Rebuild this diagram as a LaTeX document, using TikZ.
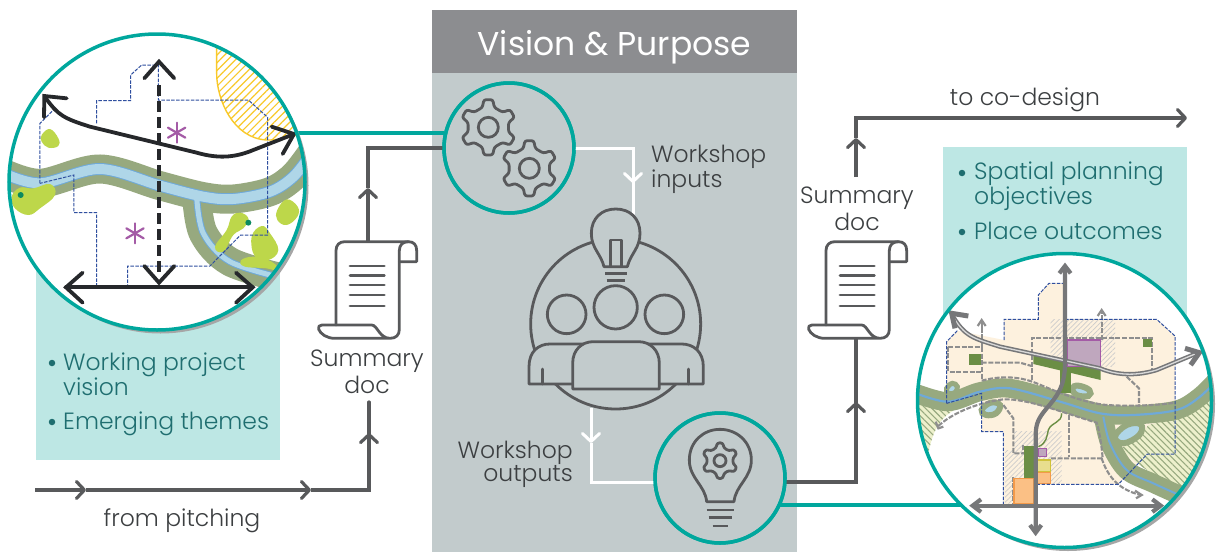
\documentclass[tikz,border=0pt]{standalone}
\usepackage{fontspec}
\setmainfont{Poppins}
\newfontfamily\lightf{Poppins Light}
\usetikzlibrary{arrows.meta,patterns.meta}
\definecolor{hdr}{HTML}{8C8D90}
\definecolor{bodyg}{HTML}{C2CBCC}
\definecolor{tealb}{HTML}{BDE7E4}
\definecolor{ringc}{HTML}{00A79D}
\definecolor{darkg}{HTML}{58595B}
\definecolor{txt}{HTML}{3C3F41}
\definecolor{tealt}{HTML}{1F6E70}
\definecolor{riverg}{HTML}{97A97F}
\definecolor{riverb}{HTML}{AFD6E8}
\definecolor{rivere}{HTML}{6FA9D8}
\definecolor{lime}{HTML}{BDD74A}
\definecolor{dotg}{HTML}{0B8A5F}
\definecolor{bnd}{HTML}{2F4F9F}
\definecolor{blk}{HTML}{26282B}
\definecolor{purp}{HTML}{A45BA6}
\definecolor{yel}{HTML}{F9C92A}
\definecolor{cream}{HTML}{FDF1DE}
\definecolor{road}{HTML}{767779}
\definecolor{dashr}{HTML}{8E8E8E}
\definecolor{pgreen}{HTML}{6B8E45}
\definecolor{orng}{HTML}{FBC085}
\definecolor{orngE}{HTML}{F39A4A}
\definecolor{landc}{HTML}{EDF0CC}
\definecolor{purf}{HTML}{BFA7BE}
\definecolor{yelf}{HTML}{E8DE8E}
\definecolor{yele}{HTML}{CFC23A}
\tikzset{
 x=1pt,y=-1pt,
 conn/.style={draw=darkg,line width=3.2pt},
 wconn/.style={draw=white,line width=3pt},
 tconn/.style={draw=ringc,line width=3.2pt},
 chev/.style={-{Straight Barb[length=8pt,width=17pt,round]}},
 ring/.style={circle,draw=ringc,line width=3.5pt,inner sep=0pt,outer sep=0pt},
 icon/.style={draw=darkg,line width=2.8pt,line join=round,line cap=round},
 lbl/.style={text=txt,inner sep=0pt,font=\lightf\fontsize{23.5}{23.5}\selectfont},
 blt/.style={text=tealt,inner sep=0pt,align=left,anchor=west,font=\lightf\fontsize{23.5}{23.5}\selectfont},
 dotn/.style={circle,fill=tealt,inner sep=0pt,minimum size=6.5pt},
 bdry/.style={draw=bnd,line width=1pt,dash pattern=on 3.5pt off 1.4pt},
 blackl/.style={draw=blk,line width=3.8pt,line cap=round,line join=miter},
 roadl/.style={draw=road,line width=4.2pt,line join=miter},
 droad/.style={draw=dashr,line width=2.1pt,dash pattern=on 5pt off 1.6pt},
 blob/.style={fill=lime,draw=none},
 ast/.style={draw=purp,line width=2.2pt,line cap=round},
}
\newcommand{\gearicon}[4]{% x y outer inner-hole (local units)
 \draw[icon,rounded corners=2.2pt,fill=bodyg,shift={(#1,#2)}]
   ({73}:{#3*.74}) -- ({81}:#3) -- ({99}:#3) -- ({107}:{#3*.74})
   \foreach \a in {150,210,270,330,390}{
     -- ({\a-17}:{#3*.74}) -- ({\a-9}:#3) -- ({\a+9}:#3) -- ({\a+17}:{#3*.74})} -- cycle;
 \draw[icon,shift={(#1,#2)}] (0,0) circle (#4);
}
\newcommand{\docicon}[2]{%
 \begin{scope}[shift={(#1,#2)},scale=1/3]
  \draw[icon] (108,285) -- (108,62) .. controls (108,45) and (118,35) .. (135,35) -- (325,35)
     .. controls (342,35) and (350,45) .. (350,62) -- (350,95) -- (298,95);
  \draw[icon] (325,35) .. controls (308,35) and (298,45) .. (298,62) -- (298,298)
     .. controls (298,315) and (288,325) .. (270,325) -- (105,325)
     .. controls (80,325) and (62,312) .. (56,298) .. controls (53,290) and (58,285) .. (66,285) -- (215,285)
     .. controls (232,285) and (238,325) .. (270,325);
  \foreach \yy in {108,137,165,195,228}{\draw[icon] (150,\yy) -- (253,\yy);}
 \end{scope}}
\begin{document}
\begin{tikzpicture}
\useasboundingbox (0,0) rectangle (1216,552);
% panels
\fill[tealb] (36,250) rectangle (280,460);
\fill[tealb] (943,147) rectangle (1187,330);
\fill[bodyg] (432,73) rectangle (797,552);
\node[fill=hdr,minimum width=365pt,minimum height=63pt,inner sep=0pt,outer sep=0pt,anchor=north west,text=white,font=\fontsize{33}{34}\selectfont] (title) at (432,10) {\raisebox{-13.5pt}[0pt][0pt]{Vision \& Purpose}};
% named anchors
\coordinate (pitchA) at (35,490);
\coordinate (pitchB) at (86,490);
\coordinate (pitchC) at (311,490);
\coordinate (pitchD) at (369,490);
\coordinate (pitchE) at (369,433);
\coordinate (pitchF) at (369,402);
\coordinate (docLt) at (368,242);
\coordinate (docLu) at (368,188);
\coordinate (docLv) at (368,148);
\coordinate (docRb) at (856,338);
\coordinate (docRu) at (856,402);
\coordinate (docRv) at (856,482);
\coordinate (coA) at (856,177);
\coordinate (coB) at (856,138);
\coordinate (coC) at (856,118);
\coordinate (coD) at (1187,118);
\coordinate (wiA) at (633,148);
\coordinate (wiB) at (633,183);
\coordinate (wiC) at (633,216);
\coordinate (woA) at (591,408);
\coordinate (woB) at (591,443);
\coordinate (woC) at (591,482);
\coordinate (tealL) at (444,133);
\coordinate (tealR) at (779,505);
% circles nodes defined early for connectors
\node[ring,minimum size=130pt] (gears) at (509,148) {};
\node[ring,minimum size=130pt] (idea) at (720,478) {};
\path (157,182) node[circle,minimum size=296pt,inner sep=0pt,outer sep=0pt] (sceneL) {};
\path (1064.5,400.5) node[circle,minimum size=294pt,inner sep=0pt,outer sep=0pt] (sceneR) {};
% teal links
\draw[tconn] (sceneL.center |- tealL) -- (tealL);
\draw[tconn] (tealR) -- (sceneR.center |- tealR);
% grey connectors
\draw[conn,chev] (pitchA) -- (pitchB);
\draw[conn,chev] (pitchB) -- (pitchC);
\draw[conn] (pitchC) -- (pitchD) -- (pitchE);
\draw[conn,chev] (pitchD) -- (pitchE);
\draw[conn,line cap=round] (pitchE) -- (pitchF);
\draw[conn,chev] (docLt) -- (docLu);
\draw[conn] (docLu) -- (docLv) -- (gears.west |- docLv);
\draw[conn] (idea.east |- docRv) -- (docRv) -- (docRu);
\draw[conn,chev] (docRv) -- (docRu);
\draw[conn] (docRu) -- (docRb);
\draw[conn,chev] (coA) -- (coB);
\draw[conn,chev] (coB) -- (coC) -- (coD);
\draw[wconn] (gears.east |- wiA) -- (wiA) -- (wiB);
\draw[wconn,chev] (wiA) -- (wiB);
\draw[wconn] (wiB) -- (wiC);
\draw[wconn,chev] (woA) -- (woB);
\draw[wconn] (woB) -- (woC) -- (idea.west |- woC);
% redraw rings over links
\node[ring,minimum size=130pt] at (gears) {};
\node[ring,minimum size=130pt] at (idea) {};
% gears icon
\begin{scope}[shift={(430,70)},scale=1/3]
 \gearicon{175}{172}{84}{30}
 \gearicon{298}{295}{84}{30}
 % people
 \draw[icon] (557,762) circle (255);
 \draw[icon,fill=bodyg] (522,590) .. controls (512,550) and (484,535) .. (484,490) .. controls (484,445) and (515,417) .. (557,417) .. controls (600,417) and (630,445) .. (630,490) .. controls (630,535) and (602,550) .. (592,590) -- cycle;
 \draw[icon,line cap=butt] (541,590) -- (541,510) -- (574,510) -- (574,590);
 \draw[icon,line cap=butt] (525,610) -- (590,610);
 \draw[icon,line cap=butt] (530,631) -- (585,631);
 \draw[icon] (410,733) circle (58);
 \draw[icon] (557,712) circle (65);
 \draw[icon] (703,733) circle (58);
 \draw[icon,fill=bodyg] (297,942) -- (297,890) .. controls (297,845) and (325,822) .. (360,822) -- (755,822) .. controls (790,822) and (820,845) .. (820,890) -- (820,942) -- cycle;
 \draw[icon] (338,897) -- (338,942);
 \draw[icon] (775,897) -- (775,942);
 \draw[icon,fill=bodyg] (428,957) -- (428,880) .. controls (428,840) and (455,815) .. (490,815) -- (625,815) .. controls (660,815) and (688,840) .. (688,880) -- (688,957) -- cycle;
\end{scope}
% idea icon
\begin{scope}[shift={(580,400)},scale=1/3]
 \draw[icon] (380,305) .. controls (375,255) and (328,235) .. (328,180) .. controls (328,125) and (370,88) .. (420,88) .. controls (470,88) and (514,125) .. (514,180) .. controls (514,235) and (467,255) .. (462,305) -- cycle;
 \gearicon{420}{182}{54}{18}
 \draw[icon,line cap=butt] (380,330) -- (463,330);
 \draw[icon,line cap=butt] (386,353) -- (457,353);
 \draw[icon,line cap=butt] (398,378) -- (445,378);
\end{scope}
% docs
\docicon{300}{230}
\docicon{790}{230}
% LEFT scene
\fill[black!35] (160.5,185.5) circle (148);
\fill[white] (sceneL.center) circle (148);
\begin{scope}
\clip (sceneL.center) circle (147.5);
\begin{scope}[shift={(0,20)},scale=1/3]
 \draw[draw=yel,line width=1.4pt,pattern={Lines[angle=45,distance=5.5pt,line width=1.2pt]},pattern color=yel]
   (650,60) -- (650,160) .. controls (650,240) and (700,355) .. (800,360) .. controls (850,362) and (900,340) .. (940,330) -- (940,60) -- cycle;
 \draw[draw=riverg,line width=29pt] plot[smooth,tension=.55] coordinates {(0,455) (120,490) (300,447) (480,497) (610,530) (700,537) (810,515) (880,470) (935,400)};
 \draw[draw=riverg,line width=29pt] plot[smooth,tension=.55] coordinates {(590,530) (610,640) (690,725) (850,775)};
 \foreach \wid/\widb/\col in {12pt/7pt/rivere,10pt/5pt/riverb}{
  \draw[draw=\col,line width=\wid] plot[smooth,tension=.55] coordinates {(0,455) (120,490) (300,447) (480,497) (610,530) (700,537) (810,515) (880,470) (935,400)};
  \draw[draw=\col,line width=\widb] plot[smooth,tension=.55] coordinates {(590,530) (610,640) (690,725) (850,775)};
 }
 \fill[blob] plot[smooth cycle,tension=.7] coordinates {(125,345) (150,327) (175,355) (175,378) (145,383) (125,365)};
 \fill[blob] plot[smooth cycle,tension=.7] coordinates {(35,530) (60,503) (100,505) (150,492) (165,525) (120,565) (85,585) (45,565)};
 \fill[blob] plot[smooth cycle,tension=.7] coordinates {(832,570) (860,538) (893,560) (892,590) (860,615) (832,600)};
 \fill[blob] plot[smooth cycle,tension=.7] coordinates {(645,680) (680,630) (695,590) (720,578) (745,595) (730,625) (700,645) (670,695)};
 \fill[blob] plot[smooth cycle,tension=.7] coordinates {(755,650) (785,618) (810,640) (835,690) (805,720) (765,710)};
 \fill[blob] plot[smooth cycle,tension=.7] coordinates {(722,722) (760,710) (815,725) (840,755) (800,745) (735,740)};
 \fill[dotg] (62,525) circle (9);
 \fill[dotg] (745,608) circle (9);
 \draw[bdry] (120,490) -- (120,310) -- (165,265);
 \draw[bdry] (290,310) -- (290,242) -- (392,242) -- (392,165) -- (425,135) -- (475,135) -- (475,240) -- (745,240) -- (803,292) -- (803,645) -- (722,645) -- (630,738) -- (383,738) -- (383,800);
 \draw[bdry] (290,800) -- (290,578) -- (222,578) -- (222,465) -- (120,490);
 \foreach \cx/\cy in {530/338,405/640}{
  \foreach \an in {90,30,-30}{\draw[ast] (\cx,\cy) ++(\an:30) -- ++(\an+180:60);}
 }
 % black arrows
 \draw[blackl] (140,238) .. controls (175,285) and (190,295) .. (270,320) -- (590,398) .. controls (650,415) and (700,415) .. (760,390) -- (875,345);
 \draw[blackl] (200,235) -- (133,228) -- (132,292);
 \draw[blackl] (815,320) -- (882,342) -- (848,402);
 \draw[blackl,line width=4.4pt,line cap=butt,dash pattern=on 10.5pt off 5.5pt] (477,196) -- (477,765);
 \draw[blackl] (433,175) -- (477,125) -- (523,175);
 \draw[blackl] (433,738) -- (477,788) -- (523,738);
 \draw[blackl] (198,802) -- (758,802);
 \draw[blackl] (248,758) -- (198,802) -- (248,848);
 \draw[blackl] (708,758) -- (758,802) -- (708,848);
\end{scope}
\end{scope}
\node[ring,minimum size=296pt] at (sceneL) {};
% RIGHT scene
\fill[black!35] (1068,404) circle (147);
\fill[white] (sceneR.center) circle (147);
\begin{scope}
\clip (sceneR.center) circle (146.5);
\begin{scope}[shift={(900,240)},scale=1/3]
 \fill[cream] (140,305) -- (172,272) -- (312,300) -- (312,238) -- (415,238) -- (415,165) -- (447,130) -- (495,130) -- (495,238) -- (770,238) -- (825,288) -- (825,642) -- (742,642) -- (655,733) -- (412,733) -- (400,795) -- (310,795) -- (310,575) -- (245,575) -- (245,460) -- (140,490) -- cycle;
 \foreach \xa/\ya/\xb/\yb in {452/238/645/380,340/575/485/730,315/630/340/795}{
  \path[pattern={Lines[angle=45,distance=3.5pt,line width=.7pt]},pattern color=black!20] (\xa,\ya) rectangle (\xb,\yb);}
 % hatched open land
 \path[fill=landc] (665,625) .. controls (700,600) and (730,580) .. (745,555) -- (850,530) .. controls (900,500) and (940,450) .. (960,400) -- (960,700) -- (850,745) .. controls (780,710) and (720,690) .. (665,625) -- cycle;
 \path[pattern={Lines[angle=-45,distance=4.5pt,line width=1.1pt]},pattern color=riverg] (665,625) .. controls (700,600) and (730,580) .. (745,555) -- (850,530) .. controls (900,500) and (940,450) .. (960,400) -- (960,700) -- (850,745) .. controls (780,710) and (720,690) .. (665,625) -- cycle;
 \path[fill=landc] (30,480) -- (160,512) .. controls (110,540) and (95,590) .. (85,640) -- (30,570) -- cycle;
 \path[pattern={Lines[angle=-45,distance=4.5pt,line width=1.1pt]},pattern color=riverg] (30,480) -- (160,512) .. controls (110,540) and (95,590) .. (85,640) -- (30,570) -- cycle;
 % ponds
 \draw[fill=riverb,draw=riverg,line width=5pt] plot[smooth cycle,tension=.7] coordinates {(140,445) (157,430) (172,440) (165,458) (145,460)};
 \draw[fill=riverb,draw=riverg,line width=6pt] plot[smooth cycle,tension=.7] coordinates {(245,510) (272,488) (300,495) (288,520) (258,525)};
 \draw[fill=riverb,draw=riverg,line width=6pt] plot[smooth cycle,tension=.7] coordinates {(517,445) (535,437) (568,450) (565,468) (530,465)};
 % river
 \draw[draw=riverg,line width=19pt] plot[smooth,tension=.55] coordinates {(20,450) (140,485) (240,455) (330,445) (480,485) (600,520) (700,525) (830,510) (900,470) (960,410)};
 \draw[draw=riverg,line width=19pt] plot[smooth,tension=.55] coordinates {(610,530) (630,610) (680,690) (760,730) (860,775)};
 \draw[draw=rivere,line width=2.2pt] plot[smooth,tension=.55] coordinates {(20,450) (140,485) (240,455) (330,445) (480,485) (600,520) (700,525) (830,510) (900,470) (960,410)};
 \draw[draw=rivere,line width=2pt] plot[smooth,tension=.55] coordinates {(610,530) (630,610) (680,690) (760,730) (860,775)};
 \draw[fill=riverb,draw=riverg,line width=6pt] plot[smooth cycle,tension=.7] coordinates {(645,590) (680,555) (722,553) (718,585) (670,610)};
 % local roads
 \draw[droad] (145,320) -- (245,320);
 \draw[droad] (145,320) -- (145,395) -- (245,395);
 \draw[droad] (245,368) -- (360,368) -- (395,378);
 \draw[droad] (245,262) -- (245,420);
 \draw[droad] (395,420) -- (395,295) -- (755,295) -- (755,390);
 \draw[droad] (680,410) -- (717,445) -- (717,500);
 \draw[droad] (245,422) .. controls (290,410) and (350,405) .. (410,430) .. controls (480,460) and (560,490) .. (620,495) .. controls (700,500) and (780,495) .. (825,488);
 \draw[droad] (115,558) .. controls (150,525) and (220,490) .. (310,478) .. controls (380,475) and (480,515) .. (590,548) .. controls (600,580) and (605,620) .. (608,655) -- (450,655);
 \draw[droad] (605,655) .. controls (625,715) and (660,750) .. (722,765);
 \draw[droad] (508,525) -- (508,650);
 \draw[droad] (310,495) -- (340,535) -- (340,640) -- (410,640);
 \draw[droad] (370,615) -- (370,640);
 \draw[droad] (340,710) -- (340,795);
 \draw[droad] (245,320) -- (245,245);
 \draw[droad] (605,300) -- (605,215);
 \draw[draw=dashr,line width=2.2pt] (233,258) -- (245,240) -- (257,258);
 \draw[draw=dashr,line width=2.2pt] (593,228) -- (605,210) -- (617,228);
 \draw[draw=dashr,line width=2.2pt] (705,752) -- (725,765) -- (708,775);
 \draw[draw=dashr,line width=2.2pt] (107,545) -- (115,565) -- (130,560);
 % parks and blocks
 \fill[pgreen] (400,345) -- (602,385) -- (602,420) -- (400,372) -- cycle;
 \fill[pgreen] (480,380) rectangle (514,460);
 \fill[pgreen] (372,617) rectangle (402,715);
 \fill[pgreen] (208,342) rectangle (242,375);
 \fill[pgreen] (730,297) rectangle (755,320);
 \draw[fill=purf,draw=purp,line width=1.2pt] (503,300) rectangle (602,380);
 \draw[fill=purf,draw=purp,line width=1.2pt] (414,625) rectangle (440,650);
 \draw[fill=yelf,draw=yele,line width=1.2pt] (413,660) rectangle (452,695);
 \draw[fill=orng,draw=orngE,line width=1.2pt] (413,697) rectangle (452,730);
 \draw[fill=orng,draw=orngE,line width=1.2pt] (342,715) rectangle (400,792);
 \draw[draw=pgreen,line width=1.4pt] (415,620) .. controls (440,610) and (440,590) .. (445,570) .. controls (455,545) and (485,550) .. (485,520);
 % boundary
 \draw[bdry] (140,490) -- (140,305) -- (172,272);
 \draw[bdry] (312,300) -- (312,238) -- (415,238) -- (415,165) -- (447,130) -- (495,130);
 \draw[bdry] (495,238) -- (770,238) -- (825,288) -- (825,642) -- (742,642) -- (655,733) -- (412,733);
 \draw[bdry] (310,795) -- (310,575) -- (245,575) -- (245,460) -- (140,490);
 % major roads
 \draw[draw=road,line width=4.4pt] (158,228) .. controls (195,290) and (220,295) .. (300,320) -- (600,385) .. controls (660,410) and (720,405) .. (770,390) -- (890,340);
 \draw[draw=white!85!black,line width=1.3pt] (158,228) .. controls (195,290) and (220,295) .. (300,320) -- (600,385) .. controls (660,410) and (720,405) .. (770,390) -- (890,340);
 \draw[roadl,line width=5pt] (205,228) -- (155,220) -- (165,265);
 \draw[roadl,line width=5pt] (855,325) -- (898,338) -- (872,375);
 \draw[roadl] (495,80) -- (495,370) .. controls (495,440) and (470,470) .. (440,505) .. controls (415,535) and (407,550) .. (407,590) -- (407,870);
 \draw[roadl] (478,100) -- (495,78) -- (512,100);
 \draw[roadl] (390,855) -- (407,878) -- (424,855);
 \draw[roadl] (218,797) -- (782,797);
 \draw[roadl] (243,778) -- (218,797) -- (243,816);
 \draw[roadl] (757,778) -- (782,797) -- (757,816);
\end{scope}
\end{scope}
\node[ring,minimum size=294pt] at (sceneR) {};
% labels
\node[lbl,align=left,anchor=west] (wi) at (651,169.5) {Workshop\\inputs};
\node[lbl,align=right,anchor=east] (wo) at (573,464.5) {Workshop\\outputs};
\node[lbl,align=center,font=\lightf\fontsize{23.5}{27.5}\selectfont] (sl) at (367,372) {Summary\\doc};
\node[lbl,align=center,font=\lightf\fontsize{23.5}{27.5}\selectfont] (sr) at (857,209) {Summary\\doc};
\node[lbl] (fp) at (182,521) {from pitching};
\node[lbl] (cd) at (1025,100) {to co-design};
\node[dotn] (d1) at (52,363) {};
\node[blt] (t1) at (63,374) {Working project\\vision};
\node[dotn] (d2) at (52,422) {};
\node[blt] (t2) at (63,423.5) {Emerging themes};
\node[dotn] (d3) at (962,173) {};
\node[blt] (t3) at (974,186) {Spatial planning\\objectives};
\node[dotn] (d4) at (962,232) {};
\node[blt] (t4) at (974,231) {Place outcomes};
\end{tikzpicture}
\end{document}
